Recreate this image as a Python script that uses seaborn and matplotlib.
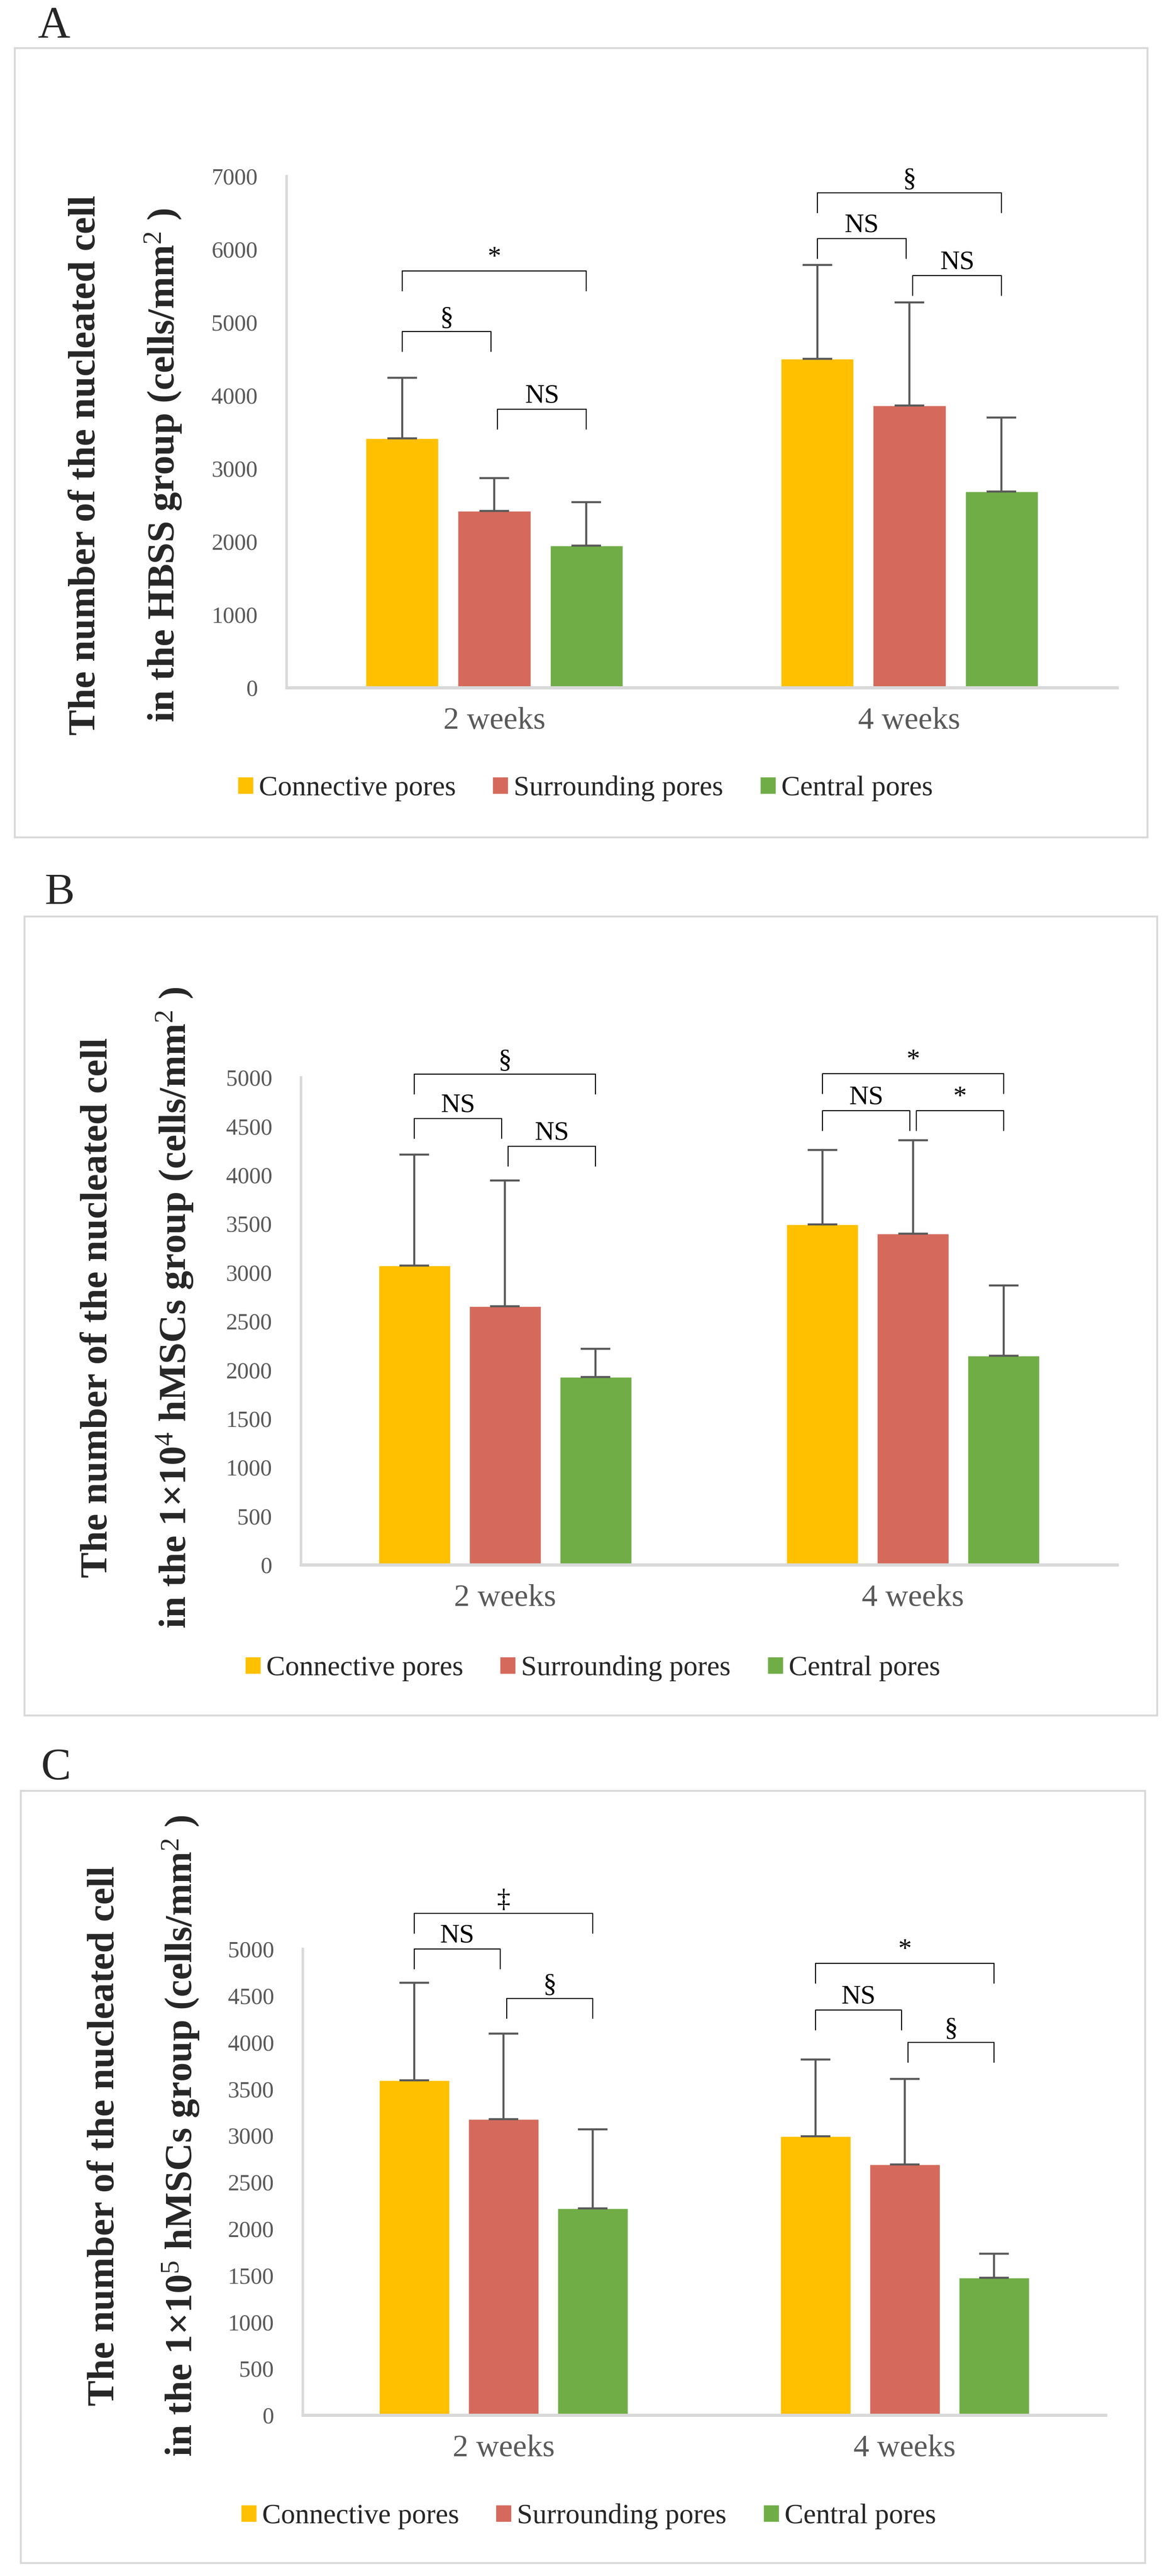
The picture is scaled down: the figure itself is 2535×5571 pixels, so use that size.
# Nucleated cell counts per pore type (HBSS, 1x10^4 and 1x10^5 hMSCs groups)
import numpy as np
import pandas as pd
import matplotlib as mpl
import matplotlib.pyplot as plt
import seaborn as sns
from matplotlib.patches import Rectangle

sns.set_theme(style='white')
mpl.rcParams['font.family'] = ['Liberation Serif', 'DejaVu Serif']
mpl.rcParams['mathtext.fontset'] = 'custom'
mpl.rcParams['mathtext.rm'] = 'Liberation Serif'
mpl.rcParams['mathtext.it'] = 'Liberation Serif:italic'
mpl.rcParams['mathtext.bf'] = 'Liberation Serif:bold'

# ---- data ----
periods = ['2 weeks', '4 weeks']
pores = ['Connective pores', 'Surrounding pores', 'Central pores']
colors = ['#FFC000', '#D56A5C', '#70AD47']

# means per period, order = pores
hbss_mean = [[3410, 2415, 1945], [4500, 3860, 2682]]
hbss_sd = [[830, 452, 593], [1285, 1412, 1014]]

msc4_mean = [[3069, 2652, 1926], [3491, 3397, 2144]]
msc4_sd = [[1139, 1290, 289], [764, 958, 721]]

msc5_mean = [[3591, 3175, 2217], [2991, 2688, 1473]]
msc5_sd = [[1047, 917, 848], [823, 918, 258]]

# significance brackets: (period, bar from, bar to, height, label)
hbss_sig = [(0, 0, 1, 4873, '§'), (0, 0, 2, 5703, '*'), (0, 1, 2, 3810, 'NS'),
            (1, 0, 2, 6772, '§'), (1, 0, 1, 6146, 'NS'), (1, 1, 2, 5639, 'NS')]
msc4_sig = [(0, 0, 2, 5033, '§'), (0, 0, 1, 4578, 'NS'), (0, 1, 2, 4293, 'NS'),
            (1, 0, 2, 5038, '*'), (1, 0, 1, 4658, 'NS'), (1, 1, 2, 4658, '*')]
msc5_sig = [(0, 0, 2, 5382, '‡'), (0, 0, 1, 5000, 'NS'), (0, 1, 2, 4469, '§'),
            (1, 0, 2, 4846, '*'), (1, 0, 1, 4345, 'NS'), (1, 1, 2, 3998, '§')]

ylab1 = 'The number of the nucleated cell'
ylab_a = 'in the HBSS group (cells/mm$^{2}$ )'
ylab_b = 'in the 1×10$^{4}$ hMSCs group (cells/mm$^{2}$ )'
ylab_c = 'in the 1×10$^{5}$ hMSCs group (cells/mm$^{2}$ )'

W, H = 2535, 5571
fig = plt.figure(figsize=(W / 100, H / 100), dpi=100)


def fx(px):
    return px / W


def fy(py):
    return 1 - py / H


def panel(letter, means, sds, sig, ymax, ystep, ylab2,
          ax_px, frame_px, letter_px, lab_px, leg_px):
    x0, x1, ytop, ybot = ax_px
    ax = fig.add_axes([fx(x0), fy(ybot), fx(x1 - x0), (ybot - ytop) / H])

    df = pd.DataFrame({
        'period': np.repeat(periods, len(pores)),
        'pore': pores * len(periods),
        'value': np.ravel(means),
    })
    sns.barplot(data=df, x='period', y='value', hue='pore', hue_order=pores,
                palette=colors, width=0.666, gap=0.21, errorbar=None,
                saturation=1, ax=ax)

    # upper error bars from bar tops
    bars = list(ax.containers)
    centers = {}
    for k, cont in enumerate(bars):
        for i, bar in enumerate(cont):
            cx = bar.get_x() + bar.get_width() / 2
            top = bar.get_height()
            centers[(i, k)] = cx
            ax.errorbar(cx, top, yerr=[[0], [sds[i][k]]], color='#595959',
                        elinewidth=3.2, capsize=23, capthick=3.2, zorder=3)

    ax.set_ylim(0, ymax)
    ax.set_yticks(np.arange(0, ymax + 1, ystep))
    ax.set_xlabel('')
    ax.set_ylabel('')
    sns.despine(ax=ax)
    ax.spines['left'].set_color('#d9d9d9')
    ax.spines['left'].set_linewidth(4)
    ax.spines['bottom'].set_color('#d9d9d9')
    ax.spines['bottom'].set_linewidth(5)
    ax.tick_params(axis='y', direction='in', length=10, width=2.5,
                   color='#d9d9d9', labelsize=36, labelcolor='#595959', pad=45)
    ax.tick_params(axis='x', length=0, labelsize=49, labelcolor='#595959', pad=30)

    # significance brackets
    leg = 43 / (ybot - ytop) * ymax
    for i, a, b, y, txt in sig:
        xa = centers[(i, a)] + (0.008 if a == 1 else 0)
        xb = centers[(i, b)] - (0.008 if b == 1 else 0)
        ax.plot([xa, xa, xb, xb], [y - leg, y, y, y - leg], color='black',
                lw=1.6, clip_on=False, zorder=4)
        ax.text((xa + xb) / 2, y + leg * 0.05, txt, ha='center', va='bottom',
                fontsize=42, color='black', clip_on=False)
    ax.set_xlim(-0.5, len(periods) - 0.5)

    sns.move_legend(ax, 'center left', bbox_to_anchor=(fx(leg_px[0]), fy(leg_px[1])),
                    bbox_transform=fig.transFigure, ncol=3, frameon=False, title='',
                    fontsize=44, handlelength=0.55, handleheight=0.55,
                    handletextpad=0.2, columnspacing=1.3, borderpad=0,
                    borderaxespad=0)

    # y label (two lines)
    fig.text(fx(lab_px[0]), fy(lab_px[2]), ylab1, rotation=90,
             rotation_mode='anchor', ha='center', va='baseline',
             fontsize=60, fontweight='bold')
    fig.text(fx(lab_px[1]), fy(lab_px[2]), ylab2, rotation=90,
             rotation_mode='anchor', ha='center', va='baseline',
             fontsize=60, fontweight='bold')

    # panel frame and letter
    l, t, r, b = frame_px
    fig.add_artist(Rectangle((fx(l), fy(b)), fx(r - l), (b - t) / H,
                             transform=fig.transFigure, fill=False,
                             ec='#d9d9d9', lw=3))
    fig.text(fx(letter_px[0]), fy(letter_px[1]), letter, ha='center',
             va='center', fontsize=70)
    return ax


panel('A', hbss_mean, hbss_sd, hbss_sig, 7000, 1000, ylab_a,
      (620, 2416, 381, 1487), (32, 104, 2482, 1811), (117, 57),
      (205, 377, 1006), (514, 1705))
panel('B', msc4_mean, msc4_sd, msc4_sig, 5000, 500, ylab_b,
      (651, 2416, 2330, 3384), (53, 1982, 2503, 3710), (129, 1932),
      (231, 402, 2828), (530, 3608))
panel('C', msc5_mean, msc5_sd, msc5_sig, 5000, 500, ylab_c,
      (655, 2391, 4215, 5223), (45, 3873, 2477, 5543), (121, 3825),
      (246, 415, 4619), (521, 5442))

fig.savefig('out.png', dpi=100, facecolor='white')
